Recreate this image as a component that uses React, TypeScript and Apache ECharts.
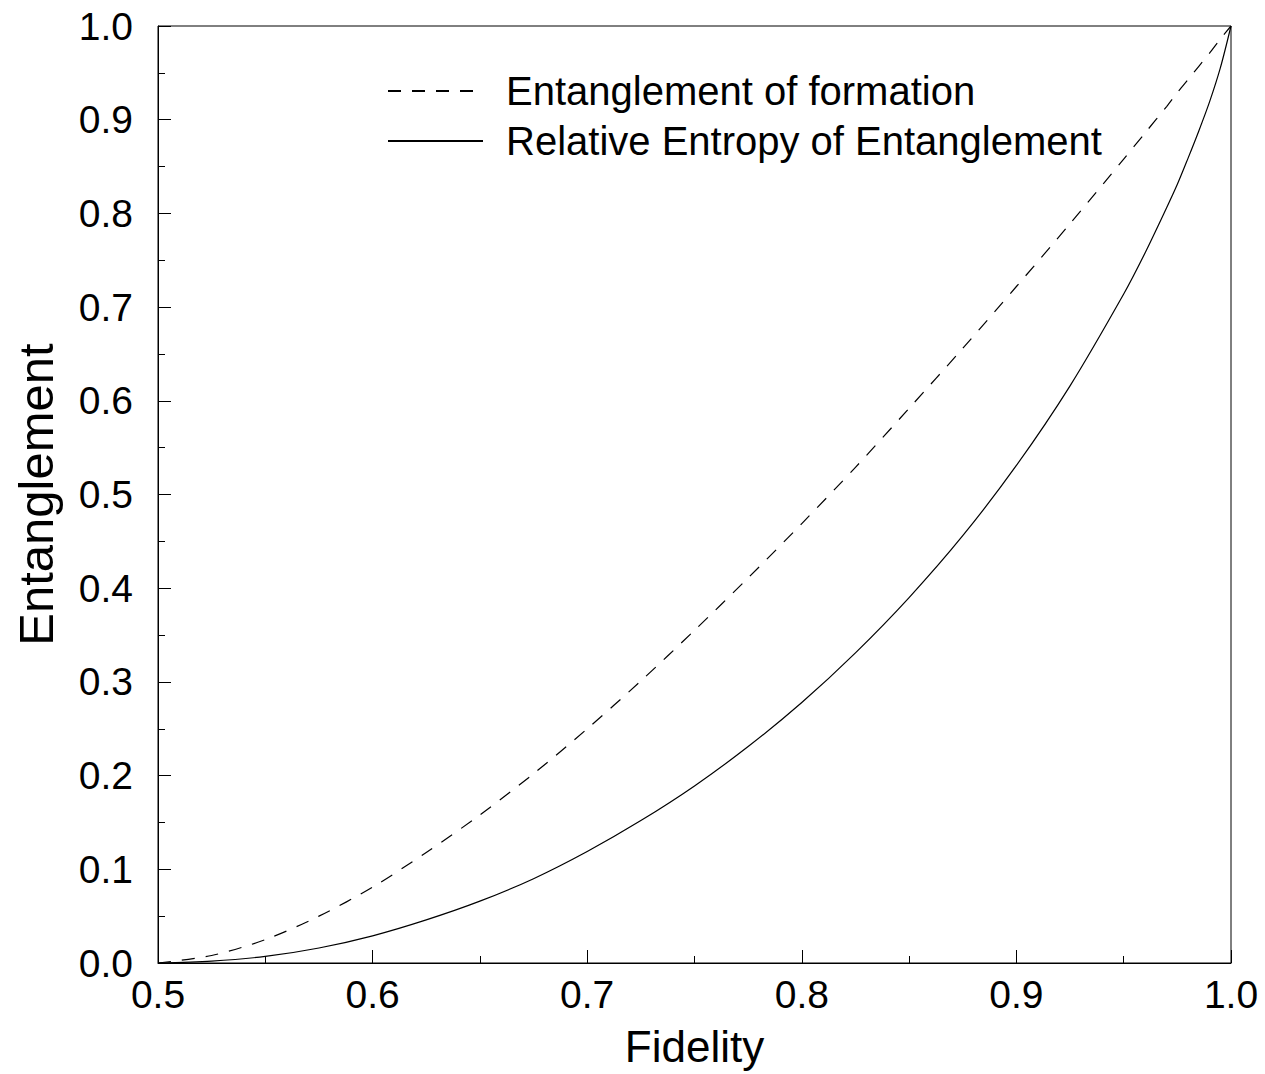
import React, { useEffect, useRef } from "react";
import * as echarts from "echarts";

const fidelity = [0.5, 0.525, 0.55, 0.575, 0.6, 0.625, 0.65, 0.675, 0.7, 0.725, 0.75, 0.775, 0.8, 0.825, 0.85, 0.875, 0.9, 0.925, 0.95, 0.96, 0.97, 0.975, 0.98, 0.985, 0.99, 0.995, 1.0];
const entFormation = [0, 0.008, 0.025, 0.05, 0.081, 0.118, 0.158, 0.202, 0.25, 0.301, 0.355, 0.411, 0.469, 0.529, 0.592, 0.656, 0.722, 0.789, 0.858, 0.886, 0.914, 0.929, 0.943, 0.957, 0.971, 0.986, 1.0];
const relEntropy = [0, 0.002, 0.007, 0.016, 0.029, 0.046, 0.066, 0.09, 0.119, 0.152, 0.189, 0.231, 0.278, 0.331, 0.39, 0.456, 0.531, 0.616, 0.714, 0.758, 0.806, 0.831, 0.859, 0.888, 0.919, 0.955, 1.0];
const seriesNames = ["Entanglement of formation", "Relative Entropy of Entanglement"];
const xAxisName = "Fidelity";
const yAxisName = "Entanglement";

const FONT = "'Liberation Sans', Arial, sans-serif";

export default function App() {
  const ref = useRef<HTMLDivElement>(null);
  useEffect(() => {
    if (!ref.current) return;
    const chart = echarts.init(ref.current, undefined, { renderer: "svg" });
    const pairs = (ys: number[]) => fidelity.map((f, i) => [f, ys[i]]);
    const axisCommon = {
      type: "value" as const,
      axisLine: { show: true, lineStyle: { color: "#000", width: 1 } },
      axisTick: { show: true, inside: true, length: 13, lineStyle: { color: "#000", width: 1 } },
      minorTick: { show: true, splitNumber: 2, length: 7, lineStyle: { color: "#000", width: 1 } },
      splitLine: { show: false },
      minorSplitLine: { show: false },
    };
    chart.setOption({
      animation: false,
      backgroundColor: "#fff",
      grid: { left: 158, top: 26, right: 34, bottom: 111, show: true, borderColor: "#000", borderWidth: 1 },
      legend: {
        orient: "vertical",
        left: 387,
        top: 66,
        padding: 0,
        itemWidth: 95,
        itemHeight: 20,
        itemGap: 0,
        itemStyle: { opacity: 0 },
        textStyle: { fontFamily: FONT, fontSize: 40, color: "#000", lineHeight: 50, padding: [0, 0, 0, 18] },
        data: seriesNames,
      },
      xAxis: {
        ...axisCommon,
        min: 0.5,
        max: 1.0,
        interval: 0.1,
        name: xAxisName,
        nameLocation: "middle",
        nameGap: 61,
        nameTextStyle: { fontFamily: FONT, fontSize: 44, color: "#000" },
        axisLabel: { margin: 12, fontFamily: FONT, fontSize: 39, color: "#000", formatter: (v: number) => v.toFixed(1) },
      },
      yAxis: {
        ...axisCommon,
        min: 0,
        max: 1,
        interval: 0.1,
        name: yAxisName,
        nameLocation: "middle",
        nameGap: 98,
        nameTextStyle: { fontFamily: FONT, fontSize: 49, color: "#000" },
        axisLabel: { margin: 25, fontFamily: FONT, fontSize: 39, color: "#000", formatter: (v: number) => v.toFixed(1) },
      },
      series: [
        {
          name: seriesNames[0],
          type: "line",
          data: pairs(entFormation),
          symbol: "none",
          smooth: 0.3,
          lineStyle: { color: "#000", width: 1.2, type: [13, 11] },
          itemStyle: { color: "#000" },
        },
        {
          name: seriesNames[1],
          type: "line",
          data: pairs(relEntropy),
          symbol: "none",
          smooth: 0.3,
          lineStyle: { color: "#000", width: 1.2, type: "solid" },
          itemStyle: { color: "#000" },
        },
      ],
    });
    return () => chart.dispose();
  }, []);
  return (
    <div
      ref={ref}
      style={{ position: "absolute", left: 0, top: 0, width: 1265, height: 1074, background: "#fff" }}
    />
  );
}
